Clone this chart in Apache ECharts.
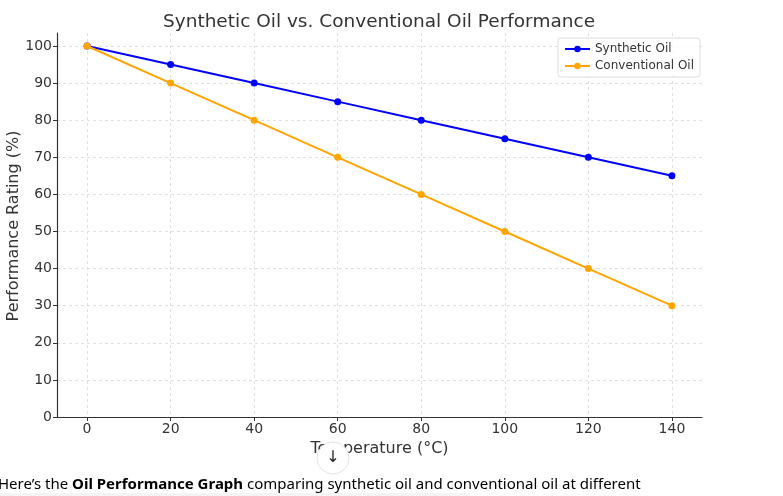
<!DOCTYPE html>
<html>
<head>
<meta charset="utf-8">
<script src="https://cdn.jsdelivr.net/npm/echarts@6/dist/echarts.min.js"></script>
<style>
html,body{margin:0;padding:0;background:#fff;}
#c{width:783px;height:496px;}
</style>
</head>
<body>
<div id="c"></div>
<script>
const temperatures = [0, 20, 40, 60, 80, 100, 120, 140];
const syntheticOil = [100, 95, 90, 85, 80, 75, 70, 65];
const conventionalOil = [100, 90, 80, 70, 60, 50, 40, 30];
const xTicks = [0, 20, 40, 60, 80, 100, 120, 140];
const yTicks = [0, 10, 20, 30, 40, 50, 60, 70, 80, 90, 100];
const yAxisTitle = 'Performance Rating (%)';

const FONT = 'DejaVu Sans';
const chart = echarts.init(document.getElementById('c'), null, {renderer: 'canvas'});
const pair = (xs, ys) => xs.map((x, i) => [x, ys[i]]);
const gridLine = {show: true, lineStyle: {color: '#d9d9d9', type: [3, 3], width: 0.8}};

chart.setOption({
  animation: false,
  backgroundColor: '#fff',
  title: {
    text: 'Synthetic Oil vs. Conventional Oil Performance',
    left: 374, top: 8, textAlign: 'center',
    textStyle: {fontFamily: FONT, fontSize: 18.5, fontWeight: 'normal', color: '#333'}
  },
  grid: {left: 57, right: 81, top: 33, bottom: 79, containLabel: false, outerBoundsMode: 'none'},
  legend: {
    right: 83, top: 38, orient: 'vertical',
    itemWidth: 25, itemHeight: 8, itemGap: 5,
    padding: [5, 6, 5, 6],
    borderColor: '#dddddd', borderWidth: 1, borderRadius: 3,
    backgroundColor: 'rgba(255,255,255,0.8)',
    textStyle: {fontFamily: FONT, fontSize: 12, color: '#333'},
    data: ['Synthetic Oil', 'Conventional Oil']
  },
  xAxis: {
    type: 'value', min: -7.2, max: 147.2,
    name: 'Temperature (°C)', nameLocation: 'middle', nameGap: 24,
    nameTextStyle: {fontFamily: FONT, fontSize: 16, color: '#333'},
    axisLine: {show: true, onZero: false, lineStyle: {color: '#333', width: 1.2}},
    axisTick: {show: true, length: 4, customValues: xTicks, lineStyle: {color: '#333'}},
    axisLabel: {customValues: xTicks, fontFamily: FONT, fontSize: 14, color: '#333', margin: 5},
    splitLine: gridLine
  },
  yAxis: {
    type: 'value', min: 0, max: 103.5,
    axisLine: {show: true, onZero: false, lineStyle: {color: '#333', width: 1.2}},
    axisTick: {show: true, length: 4, customValues: yTicks, lineStyle: {color: '#333'}},
    axisLabel: {customValues: yTicks, fontFamily: FONT, fontSize: 14, color: '#333', margin: 5},
    splitLine: gridLine
  },
  series: [
    {
      name: 'Synthetic Oil', type: 'line', data: pair(temperatures, syntheticOil),
      color: '#0000ff', symbol: 'circle', symbolSize: 7,
      lineStyle: {width: 2}, z: 3
    },
    {
      name: 'Conventional Oil', type: 'line', data: pair(temperatures, conventionalOil),
      color: '#ffa500', symbol: 'circle', symbolSize: 7,
      lineStyle: {width: 2}, z: 4
    }
  ],
  graphic: [
    {type: 'text', x: 14, y: 226, rotation: Math.PI / 2,
     style: {text: yAxisTitle, fontFamily: FONT, fontSize: 16, fill: '#333', align: 'center', verticalAlign: 'middle'}},
    {type: 'rect', left: 0, top: 493, shape: {width: 470, height: 3}, style: {fill: '#f4f4f4'}},
    {
      type: 'text', left: -2, top: 477,
      style: {
        text: '{n|Here’s the }{b|Oil Performance Graph}{n| comparing synthetic oil and conventional oil at different}',
        rich: {
          n: {fontFamily: 'Noto Sans', fontSize: 15, color: '#0d0d0d'},
          b: {fontFamily: 'Noto Sans', fontSize: 15, fontWeight: 'bold', color: '#0d0d0d'}
        }
      }
    },
    {type: 'circle', shape: {cx: 333, cy: 458, r: 16}, style: {fill: '#fff', stroke: '#e3e3e3', lineWidth: 1}, z: 100},
    {type: 'text', x: 333, y: 458, style: {text: '↓', fontFamily: FONT, fontSize: 16, fill: '#222', align: 'center', verticalAlign: 'middle'}, z: 101}
  ]
});
</script>
</body>
</html>
